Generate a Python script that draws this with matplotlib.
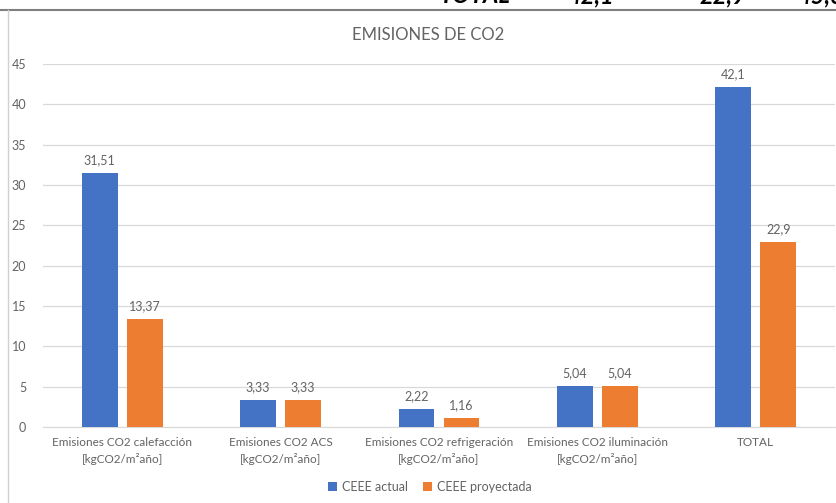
# emisiones de CO2, actual vs proyectada

import numpy as np
import matplotlib.pyplot as plt
from matplotlib.lines import Line2D

plt.rcParams['font.family'] = ['Lato', 'DejaVu Sans']

categorias = ['Emisiones CO2 calefacción\n[kgCO2/m²año]',
              'Emisiones CO2 ACS\n[kgCO2/m²año]',
              'Emisiones CO2 refrigeración\n[kgCO2/m²año]',
              'Emisiones CO2 iluminación\n[kgCO2/m²año]',
              'TOTAL']
actual = [31.51, 3.33, 2.22, 5.04, 42.1]
proyectada = [13.37, 3.33, 1.16, 5.04, 22.9]
etiq_actual = ['31,51', '3,33', '2,22', '5,04', '42,1']
etiq_proy = ['13,37', '3,33', '1,16', '5,04', '22,9']
fila_tabla = ['TOTAL', '42,1', '22,9', '45,6']

azul = '#4472C4'
naranja = '#ED7D31'
gris = '#636363'

fig = plt.figure(figsize=(8.36, 5.03), dpi=100)
ax = fig.add_axes([43 / 836, 1 - 427 / 503, 792 / 836, 363 / 503])

x = np.arange(len(categorias))
ancho = 0.227
desp = 0.142
b1 = ax.bar(x - desp, actual, ancho, color=azul, label='CEEE actual', zorder=3)
b2 = ax.bar(x + desp, proyectada, ancho, color=naranja, label='CEEE proyectada', zorder=3)

for barras, etiq in ((b1, etiq_actual), (b2, etiq_proy)):
    for b, t in zip(barras, etiq):
        ax.annotate(t, (b.get_x() + b.get_width() / 2, b.get_height()),
                    xytext=(0, 5), textcoords='offset points',
                    ha='center', va='bottom', fontsize=9, color=gris)

ax.set_xlim(-0.5, len(categorias) - 0.5)
ax.set_ylim(0, 45)
ax.set_yticks(range(0, 46, 5))
ax.set_xticks(x)
ax.set_xticklabels(categorias, fontsize=8.5, color=gris, linespacing=1.55)
ax.tick_params(axis='y', labelsize=9, labelcolor=gris, length=0, pad=12)
ax.tick_params(axis='x', length=0, pad=7)
ax.grid(axis='y', color='#d9d9d9', linewidth=0.9, zorder=0)
for s in ['top', 'right', 'left']:
    ax.spines[s].set_visible(False)
ax.spines['bottom'].set_color('#d9d9d9')

fig.text(428 / 836, 1 - 35 / 503, 'EMISIONES DE CO2', ha='center', va='center',
         fontsize=12, color=gris)

ax.legend(loc='center', bbox_to_anchor=(430 / 836, 1 - 487 / 503),
          bbox_transform=fig.transFigure, ncol=2, frameon=False,
          fontsize=9, labelcolor=gris, handlelength=0.7, handleheight=0.7,
          handletextpad=0.4, columnspacing=1.2)

# trozo de la hoja de calculo que queda arriba (cortado en la captura)
for xp, t in zip([440, 568, 700, 797], fila_tabla):
    fig.text(xp / 836, 1 - 7 / 503, t, ha='left', va='bottom', fontsize=17,
             fontweight='bold', fontstyle='italic', color='black')
fig.add_artist(Line2D([0, 1], [1 - 9.5 / 503] * 2, color='#7f7f7f', linewidth=1.5))
fig.add_artist(Line2D([7.5 / 836] * 2, [0, 1 - 10 / 503], color='#d0d0d0', linewidth=1))

fig.savefig('out.png', dpi=100)
